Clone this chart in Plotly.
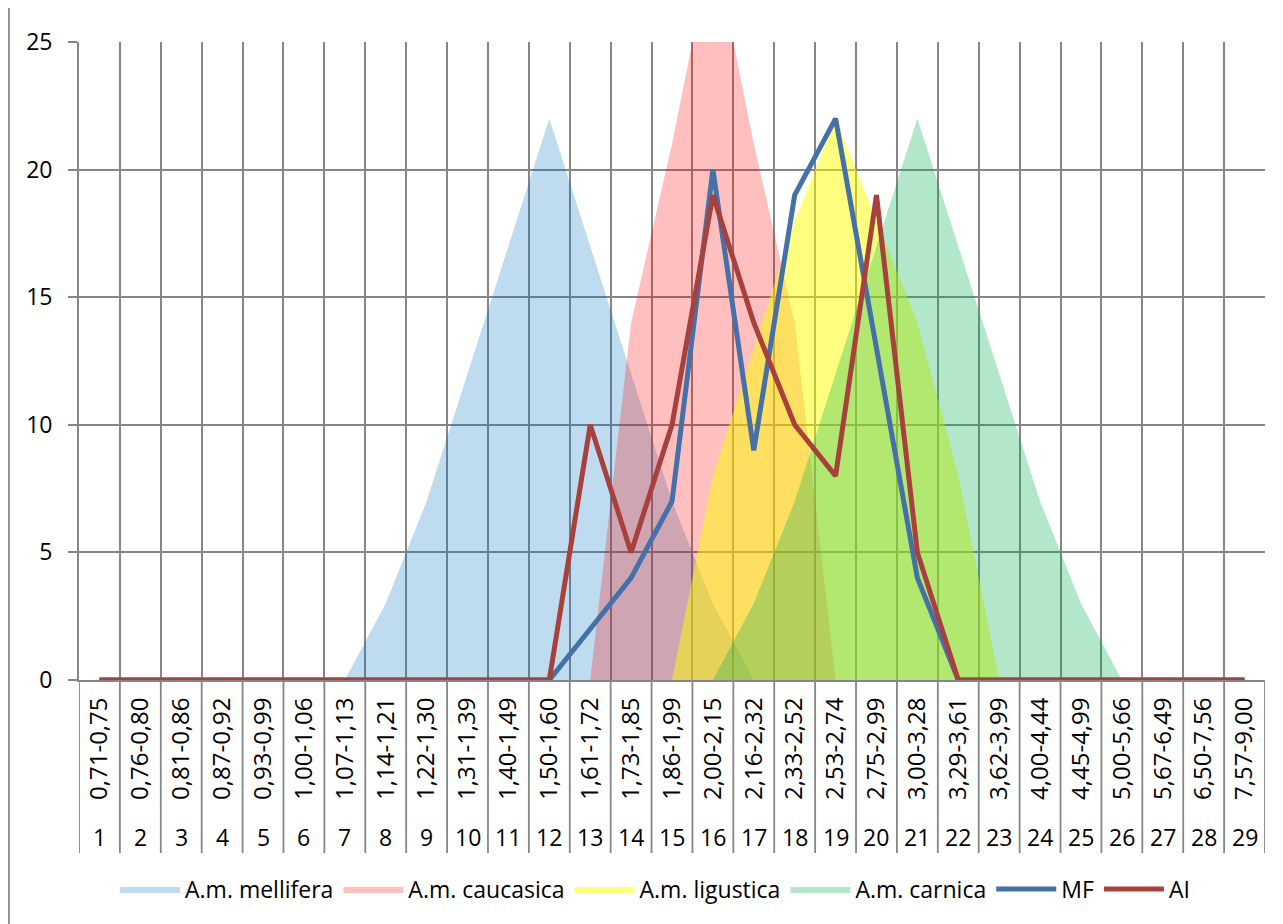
import plotly.graph_objects as go

categories = list(range(1, 30))
range_labels = ["0,71-0,75", "0,76-0,80", "0,81-0,86", "0,87-0,92", "0,93-0,99",
                "1,00-1,06", "1,07-1,13", "1,14-1,21", "1,22-1,30", "1,31-1,39",
                "1,40-1,49", "1,50-1,60", "1,61-1,72", "1,73-1,85", "1,86-1,99",
                "2,00-2,15", "2,16-2,32", "2,33-2,52", "2,53-2,74", "2,75-2,99",
                "3,00-3,28", "3,29-3,61", "3,62-3,99", "4,00-4,44", "4,45-4,99",
                "5,00-5,66", "5,67-6,49", "6,50-7,56", "7,57-9,00"]

mellifera = [0, 0, 0, 0, 0, 0, 0, 3, 7, 12, 17, 22, 17, 12, 7, 3, 0, 0, 0, 0, 0, 0, 0, 0, 0, 0, 0, 0, 0]
caucasica = [0, 0, 0, 0, 0, 0, 0, 0, 0, 0, 0, 0, 0, 14, 21, 29, 21, 14, 0, 0, 0, 0, 0, 0, 0, 0, 0, 0, 0]
ligustica = [0, 0, 0, 0, 0, 0, 0, 0, 0, 0, 0, 0, 0, 0, 0, 8, 13, 18, 22, 18, 14, 8, 0, 0, 0, 0, 0, 0, 0]
carnica = [0, 0, 0, 0, 0, 0, 0, 0, 0, 0, 0, 0, 0, 0, 0, 0, 3, 7, 12, 17, 22, 17, 12, 7, 3, 0, 0, 0, 0]
mf = [0, 0, 0, 0, 0, 0, 0, 0, 0, 0, 0, 0, 2, 4, 7, 20, 9, 19, 22, 13, 4, 0, 0, 0, 0, 0, 0, 0, 0]
ai = [0, 0, 0, 0, 0, 0, 0, 0, 0, 0, 0, 0, 10, 5, 10, 19, 14, 10, 8, 19, 5, 0, 0, 0, 0, 0, 0, 0, 0]

FONT = "Open Sans"
GRID = "#868686"
GW = 1.8

# page geometry (absolute page pixels); the page body has an 8px margin
OFF = 8
PAGE_W, PAGE_H = 1283, 924
L, R, T, B = 79, 1265, 42, 680
W, H = PAGE_W - OFF, PAGE_H - OFF


def py(p):
    return (B - p) / (B - T)


def px(p):
    return (p - L) / (R - L)


fig = go.Figure()

areas = [
    ("A.m. mellifera", mellifera, "rgba(0,112,192,0.25)"),
    ("A.m. caucasica", caucasica, "rgba(255,0,0,0.25)"),
    ("A.m. ligustica", ligustica, "rgba(255,255,0,0.5)"),
    ("A.m. carnica", carnica, "rgba(0,176,80,0.3)"),
]
for name, vals, col in areas:
    fig.add_trace(go.Scatter(x=categories, y=vals, name=name, mode="lines",
                             line=dict(width=0, color=col), fill="tozeroy",
                             fillcolor=col, hoverinfo="x+y+name"))

fig.add_trace(go.Scatter(x=categories, y=mf, name="MF", mode="lines",
                         line=dict(color="#4570a8", width=5)))
fig.add_trace(go.Scatter(x=categories, y=ai, name="AI", mode="lines",
                         line=dict(color="#a8403e", width=5)))

shapes = []
# separators in the category label area
for i in range(30):
    shapes.append(dict(type="line", xref="x", yref="paper", x0=i + 0.5, x1=i + 0.5,
                       y0=0, y1=py(853), line=dict(color=GRID, width=GW)))
# outer chart border (left edge)
shapes.append(dict(type="line", xref="paper", yref="paper", x0=px(9), x1=px(9),
                   y0=py(OFF), y1=py(PAGE_H), line=dict(color=GRID, width=GW)))

annotations = []
for c in categories:
    annotations.append(dict(x=c, y=py(837), xref="x", yref="paper", text=str(c),
                            showarrow=False, yanchor="middle", xanchor="center",
                            font=dict(family=FONT, size=23, color="#000")))

fig.update_layout(
    width=W, height=H,
    margin=dict(l=L - OFF, r=PAGE_W - R, t=T - OFF, b=PAGE_H - B),
    paper_bgcolor="white", plot_bgcolor="white",
    showlegend=True,
    legend=dict(orientation="h", x=px(655), xanchor="center", y=py(889), yanchor="middle",
                font=dict(family=FONT, size=23, color="#000"), itemwidth=60,
                traceorder="normal", tracegroupgap=0),
    shapes=shapes, annotations=annotations,
    font=dict(family=FONT, color="#000"),
)

fig.update_xaxes(range=[0.5, 29.5], tickmode="array", tickvals=categories,
                 ticktext=range_labels, tickangle=-90, showgrid=False,
                 tickfont=dict(family=FONT, size=24, color="#000"),
                 ticks="", ticklabelstandoff=6,
                 showline=True, linecolor=GRID, linewidth=GW, zeroline=False,
                 minor=dict(tick0=0.5, dtick=1, showgrid=True, gridcolor=GRID, gridwidth=GW,
                            ticks=""))
fig.update_yaxes(range=[0, 25], tickmode="array", tickvals=[0, 5, 10, 15, 20, 25],
                 showgrid=True, gridcolor=GRID, gridwidth=GW, zeroline=False,
                 ticks="outside", ticklen=9, tickcolor=GRID, tickwidth=GW,
                 ticklabelstandoff=11,
                 tickfont=dict(family=FONT, size=23, color="#000"),
                 showline=True, linecolor=GRID, linewidth=GW)

fig.write_html("out.html")
